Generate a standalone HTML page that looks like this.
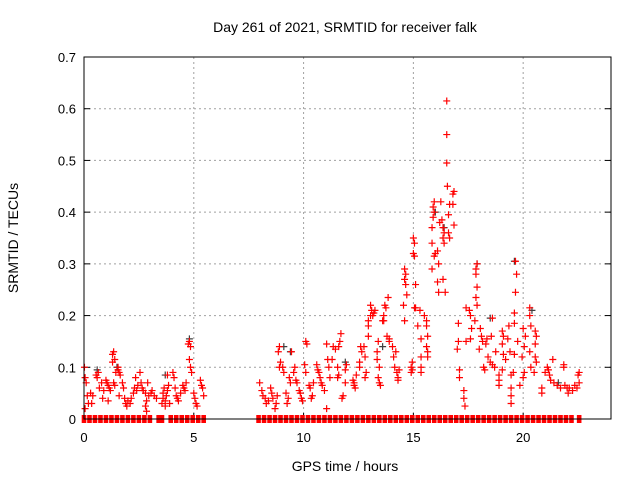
<!DOCTYPE html>
<html><head><meta charset="utf-8"><style>
html,body{margin:0;padding:0;background:#fff;}
svg{display:block;font-family:"Liberation Sans",sans-serif;}
</style></head><body>
<svg id="chart" width="640" height="480" xmlns="http://www.w3.org/2000/svg">
<text x="345" y="32" font-size="14" text-anchor="middle">Day 261 of 2021, SRMTID for receiver falk</text>
<text x="345" y="471" font-size="14" text-anchor="middle">GPS time / hours</text>
<text transform="translate(18,238) rotate(-90)" font-size="14" text-anchor="middle">SRMTID / TECUs</text>
<g id="grid"></g><g id="ticks"></g><g id="gray"></g><g id="red"></g>
<rect x="84" y="57" width="527" height="362" fill="none" stroke="#000" stroke-width="1"/>
</svg>
<script>
const xTicks=[0,5,10,15,20];
const yTicks=[0,0.1,0.2,0.3,0.4,0.5,0.6,0.7];
const yTickLabels=["0","0.1","0.2","0.3","0.4","0.5","0.6","0.7"];
const zeroTimes=[0,0.25,0.5,0.75,1,1.25,1.5,1.75,2,2.25,2.5,2.75,3,3.4,3.55,3.95,4.2,4.45,4.7,4.95,5.2,5.45,7.95,8.2,8.45,8.7,8.95,9.2,9.45,9.7,9.95,10.2,10.45,10.7,10.95,11.2,11.45,11.7,11.95,12.2,12.45,12.7,12.95,13.2,13.45,13.7,13.95,14.2,14.45,14.7,14.95,15.2,15.45,15.7,15.95,16.2,16.45,16.7,16.95,17.2,17.45,17.7,17.95,18.2,18.45,18.7,18.95,19.2,19.45,19.7,19.95,20.2,20.45,20.7,20.95,21.2,21.45,21.7,21.95,22.2,22.55];
const grayPts=[[0.6,0.095],[4.8,0.155],[9.4,0.13],[9.1,0.14],[16.0,0.4],[16.4,0.37],[17.9,0.3],[19.6,0.305],[20.4,0.21],[18.5,0.195],[13.6,0.14],[21.6,0.07],[1.5,0.1],[3.7,0.085],[11.9,0.11]];
const redPts=[
[0.02,0.1],[0.05,0.08],[0.1,0.07],[0.15,0.045],[0.2,0.03],[0.05,0.02],[0.3,0.05],[0.4,0.045],[0.35,0.03],
[0.55,0.085],[0.6,0.08],[0.7,0.06],[0.65,0.09],[0.8,0.07],[0.9,0.055],[0.85,0.04],
[1.0,0.075],[1.05,0.07],[1.1,0.065],[1.15,0.06],[1.2,0.055],[1.1,0.035],[1.3,0.125],[1.35,0.13],[1.3,0.11],[1.4,0.115],[1.45,0.09],[1.35,0.07],[1.4,0.065],
[1.55,0.1],[1.6,0.09],[1.55,0.095],[1.65,0.085],[1.6,0.045],[1.75,0.07],[1.8,0.06],[1.85,0.04],[1.9,0.03],[1.95,0.025],
[2.0,0.035],[2.1,0.03],[2.15,0.04],[2.25,0.05],[2.3,0.06],[2.35,0.08],[2.4,0.055],[2.45,0.065],
[2.55,0.09],[2.6,0.07],[2.65,0.06],[2.7,0.055],[2.8,0.05],[2.85,0.035],[2.8,0.025],[2.85,0.015],[2.95,0.045],[2.9,0.07],
[3.05,0.05],[3.1,0.055],[3.2,0.045],[3.3,0.04],
[3.55,0.03],[3.6,0.04],[3.6,0.05],[3.65,0.06],[3.7,0.025],[3.7,0.035],[3.75,0.045],[3.8,0.055],[3.85,0.065],[3.8,0.085],[3.9,0.03],
[4.05,0.09],[4.1,0.08],[4.15,0.06],[4.2,0.045],[4.25,0.04],[4.3,0.035],[4.4,0.05],
[4.5,0.065],[4.55,0.06],[4.65,0.07],[4.6,0.055],[4.8,0.15],[4.85,0.14],[4.75,0.145],[4.8,0.115],[4.85,0.1],[4.9,0.09],
[5.0,0.05],[5.05,0.04],[5.1,0.03],[5.15,0.025],[5.3,0.075],[5.35,0.065],[5.4,0.06],[5.45,0.045],
[8.0,0.07],[8.1,0.055],[8.15,0.045],[8.25,0.04],[8.3,0.03],[8.4,0.035],
[8.5,0.06],[8.55,0.05],[8.6,0.04],[8.7,0.02],[8.75,0.03],[8.8,0.045],[8.9,0.14],[8.85,0.13],[8.95,0.11],[8.9,0.1],
[9.05,0.1],[9.1,0.09],[9.2,0.05],[9.25,0.03],[9.3,0.04],[9.45,0.13],[9.35,0.08],[9.4,0.07],
[9.55,0.09],[9.6,0.1],[9.65,0.075],[9.7,0.07],[9.8,0.055],[9.85,0.05],[9.9,0.04],[9.95,0.035],
[10.1,0.15],[10.15,0.145],[10.05,0.105],[10.1,0.09],[10.25,0.065],[10.3,0.06],[10.4,0.045],[10.35,0.04],[10.45,0.07],
[10.6,0.105],[10.65,0.095],[10.7,0.09],[10.75,0.08],[10.8,0.07],[10.85,0.065],[10.95,0.055],
[11.05,0.145],[11.1,0.115],[11.15,0.1],[11.2,0.08],[11.05,0.02],[11.35,0.14],[11.3,0.115],[11.45,0.135],
[11.7,0.165],[11.65,0.15],[11.6,0.14],[11.55,0.1],[11.6,0.085],[11.55,0.08],[11.8,0.045],[11.75,0.04],[11.9,0.07],[11.9,0.095],[11.95,0.105],
[12.25,0.075],[12.3,0.07],[12.3,0.065],[12.35,0.06],[12.4,0.085],[12.55,0.1],[12.55,0.11],[12.6,0.14],[12.65,0.13],
[12.75,0.14],[12.8,0.12],[12.85,0.09],[12.8,0.08],[12.95,0.19],[12.95,0.18],[12.95,0.16],[13.05,0.2],[13.1,0.21],[13.05,0.22],
[13.2,0.205],[13.25,0.21],[13.15,0.2],[13.4,0.15],[13.35,0.13],[13.35,0.115],[13.45,0.1],[13.4,0.08],[13.45,0.07],[13.5,0.065],
[13.6,0.19],[13.65,0.2],[13.75,0.215],[13.7,0.22],[13.8,0.16],[13.9,0.155],[13.65,0.19],[13.85,0.235],[13.9,0.15],
[14.05,0.14],[14.1,0.12],[14.15,0.1],[14.2,0.13],[14.25,0.09],[14.3,0.08],[14.35,0.095],[14.3,0.075],
[14.6,0.29],[14.65,0.28],[14.6,0.27],[14.65,0.26],[14.7,0.24],[14.55,0.22],[14.6,0.19],[14.9,0.1],[14.95,0.11],[14.9,0.09],[14.95,0.095],[15.05,0.215],
[15.0,0.35],[15.05,0.34],[15.0,0.32],[15.05,0.315],[15.1,0.26],[15.1,0.215],[15.2,0.18],[15.3,0.21],[15.35,0.155],[15.35,0.12],[15.35,0.1],[15.35,0.09],
[15.5,0.2],[15.6,0.19],[15.6,0.18],[15.65,0.16],[15.6,0.14],[15.65,0.13],[15.65,0.12],[15.85,0.29],[15.85,0.34],[15.85,0.37],[15.9,0.39],[15.9,0.41],[15.95,0.42],[15.95,0.4],[16.0,0.32],[15.95,0.315],
[16.25,0.42],[16.3,0.385],[16.2,0.38],[16.1,0.325],[16.15,0.3],[16.1,0.265],[16.15,0.245],[16.35,0.35],[16.35,0.37],[16.4,0.36],[16.4,0.34],[16.35,0.27],[16.45,0.245],
[16.52,0.615],[16.52,0.55],[16.52,0.495],[16.55,0.45],[16.65,0.415],[16.6,0.395],[16.6,0.36],[16.65,0.35],[16.85,0.44],[16.8,0.435],[16.8,0.415],[16.85,0.375],
[17.05,0.185],[17.05,0.15],[17.0,0.135],[17.1,0.095],[17.1,0.08],[17.3,0.055],[17.3,0.04],[17.35,0.025],[17.4,0.215],[17.4,0.15],
[17.55,0.21],[17.6,0.2],[17.65,0.175],[17.6,0.155],[17.9,0.3],[17.85,0.29],[17.85,0.28],[17.9,0.255],[17.85,0.235],[17.9,0.22],[17.8,0.19],
[18.05,0.175],[18.1,0.16],[18.0,0.135],[18.2,0.1],[18.25,0.095],[18.15,0.15],[18.3,0.145],[18.35,0.155],[18.4,0.12],
[18.6,0.195],[18.55,0.16],[18.5,0.11],[18.6,0.105],[18.7,0.1],[18.75,0.13],[18.9,0.085],[18.9,0.075],[18.9,0.065],
[19.05,0.17],[19.1,0.16],[19.05,0.145],[19.1,0.125],[19.2,0.115],[19.05,0.095],[19.35,0.18],[19.3,0.155],[19.4,0.13],
[19.45,0.085],[19.45,0.06],[19.45,0.045],[19.45,0.03],[19.65,0.305],[19.7,0.28],[19.65,0.245],[19.6,0.205],[19.6,0.185],[19.75,0.15],[19.6,0.125],[19.55,0.09],[19.85,0.065],
[20.0,0.175],[20.1,0.16],[20.05,0.14],[19.95,0.12],[20.05,0.09],[20.0,0.08],[20.3,0.215],[20.3,0.2],[20.35,0.18],[20.3,0.13],[20.35,0.1],
[20.55,0.17],[20.6,0.16],[20.55,0.145],[20.55,0.12],[20.6,0.11],[20.5,0.09],[20.85,0.06],[20.85,0.05],
[21.1,0.1],[21.15,0.095],[21.0,0.09],[21.2,0.085],[21.35,0.115],[21.25,0.075],[21.4,0.07],
[21.55,0.065],[21.7,0.06],[21.85,0.105],[21.85,0.1],[21.9,0.065],[22.0,0.06],[22.05,0.05],
[22.1,0.06],[22.25,0.055],[22.35,0.065],[22.5,0.085],[22.55,0.09],[22.55,0.07],[22.45,0.06]
];
const NS='http://www.w3.org/2000/svg';
const X0=84,X1=611,Y0=419,Y1=57,XMAX=24,YMAX=0.7;
function sx(v){return X0+v/XMAX*(X1-X0);}
function sy(v){return Y0-v/YMAX*(Y0-Y1);}
function mk(tag,attrs,parent){const e=document.createElementNS(NS,tag);for(const k in attrs)e.setAttribute(k,attrs[k]);parent.appendChild(e);return e;}
const grid=document.getElementById('grid'),ticks=document.getElementById('ticks');
xTicks.forEach(t=>{
  const x=sx(t);
  if(t>0){const g=mk('line',{x1:x,x2:x,y1:Y1,y2:Y0,stroke:'#a0a0a0','stroke-dasharray':'2,3'},grid);
  
  }
  const tk=mk('line',{x1:x,x2:x,y1:Y0,y2:Y0-6,stroke:'#000'},ticks);
  
  
  const l=mk('text',{x:x,y:Y0+23,'font-size':'13','text-anchor':'middle'},ticks);l.textContent=t;
  
  
});
yTicks.forEach((t,i)=>{
  const y=sy(t);
  if(i>0&&i<yTicks.length-1){const g=mk('line',{x1:X0,x2:X1,y1:y,y2:y,stroke:'#a0a0a0','stroke-dasharray':'2,3'},grid);
  
  }
  const tk=mk('line',{x1:X0,x2:X0+6,y1:y,y2:y,stroke:'#000'},ticks);
  
  
  const tk2=mk('line',{x1:X1,x2:X1-6,y1:y,y2:y,stroke:'#000'},ticks);
  
  
  const l=mk('text',{x:X0-8,y:y+5,'font-size':'13','text-anchor':'end'},ticks);l.textContent=yTickLabels[i];
  
  
});
function cross(p,col,parent,name){
  const x=sx(p[0]),y=sy(p[1]);
  const e=mk('path',{d:`M${x-3.5},${y}H${x+3.5}M${x},${y-3.5}V${y+3.5}`,stroke:col,'stroke-width':'1.2',fill:'none'},parent);
  
  
}
const gG=document.getElementById('gray'),gR=document.getElementById('red');
grayPts.forEach(p=>cross(p,'#404040',gG,'gray-point'));
redPts.forEach(p=>cross(p,'#ff0000',gR,'red-point'));
zeroTimes.forEach(t=>{
  const x=sx(t);
  const r=mk('rect',{x:x-2.3,y:Y0-4,width:4.6,height:8,fill:'#ff0000'},gR);
  
  
});
</script>
</body></html>
